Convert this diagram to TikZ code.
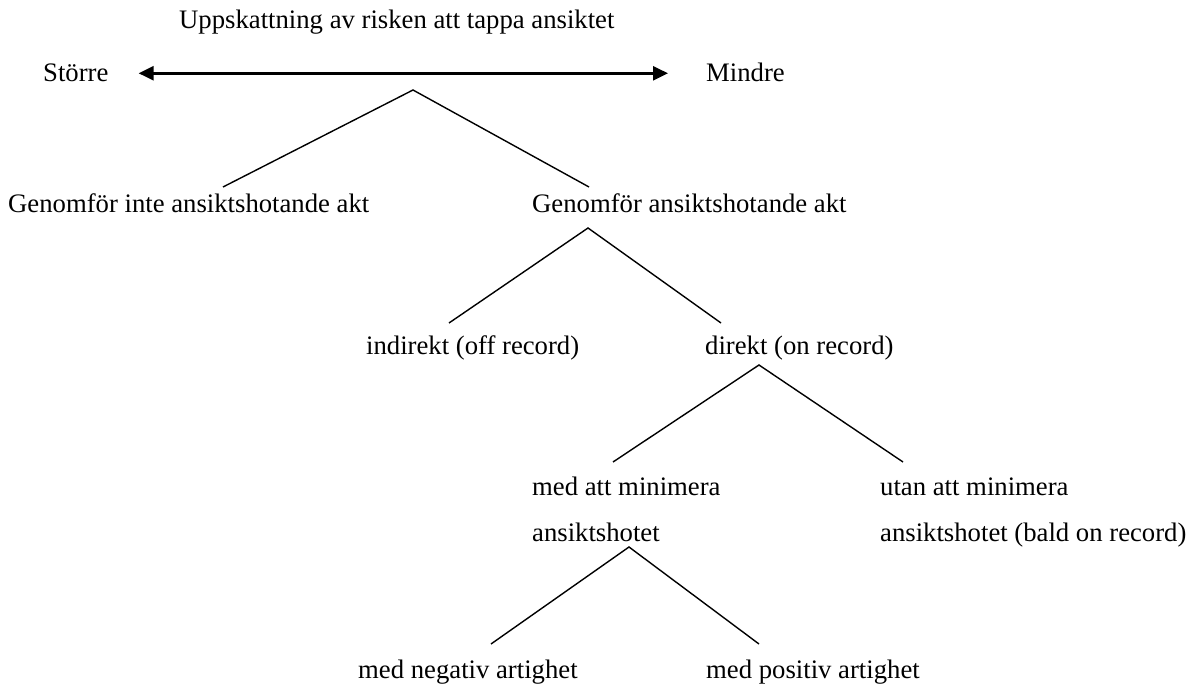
\documentclass[tikz,border=0pt]{standalone}
\usepackage{fontspec}
\setmainfont{Liberation Serif}
\usetikzlibrary{arrows.meta}

\tikzset{
  lbl/.style={anchor=base west,inner sep=0pt,font=\fontsize{26.7}{30}\selectfont},
  branch/.style={line width=1.4pt},
  scalearrow/.style={line width=2.6pt,{Triangle[length=15pt,width=14pt]}-{Triangle[length=15pt,width=14pt]}}
}

\begin{document}
\begin{tikzpicture}[x=1pt,y=-1pt]
		\useasboundingbox (0,0) rectangle (1187,684);
		% rubrik och skala
		\node[lbl] (rubrik) at (179,29) {Uppskattning av risken att tappa ansiktet};
		\node[lbl] (storre) at (43,82) {Större};
		\node[lbl] (mindre) at (706,82) {Mindre};
		\draw[scalearrow,shorten <=30pt,shorten >=38pt] (storre.east) -- (storre.east -| mindre.west);
		% noder
		\node[lbl] (inteakt) at (8,213) {Genomför inte ansiktshotande akt};
		\node[lbl] (akt) at (532,213) {Genomför ansiktshotande akt};
		\node[lbl] (indirekt) at (366,355) {indirekt (off record)};
		\node[lbl] (direkt) at (705,355) {direkt (on record)};
		\node[lbl] (medmin) at (532,496) {med att minimera};
		\node[lbl] (medminb) at (532,542) {ansiktshotet};
		\node[lbl] (utanmin) at (880,496) {utan att minimera};
		\node[lbl] (utanminb) at (880,542) {ansiktshotet (bald on record)};
		\node[lbl] (negativ) at (358,678) {med negativ artighet};
		\node[lbl] (positiv) at (706,678) {med positiv artighet};
		% grenar
		\coordinate (g1) at (413,90);  \coordinate (g1l) at (223,187); \coordinate (g1r) at (589,187);
		\coordinate (g2) at (588,228); \coordinate (g2l) at (449,323); \coordinate (g2r) at (721,323);
		\coordinate (g3) at (759,365); \coordinate (g3l) at (613,462); \coordinate (g3r) at (903,462);
		\coordinate (g4) at (629,547); \coordinate (g4l) at (491,644); \coordinate (g4r) at (759,644);
		\foreach \g in {g1,g2,g3,g4}
		  \draw[branch] (\g l) -- (\g) -- (\g r);
	\end{tikzpicture}
\end{document}
